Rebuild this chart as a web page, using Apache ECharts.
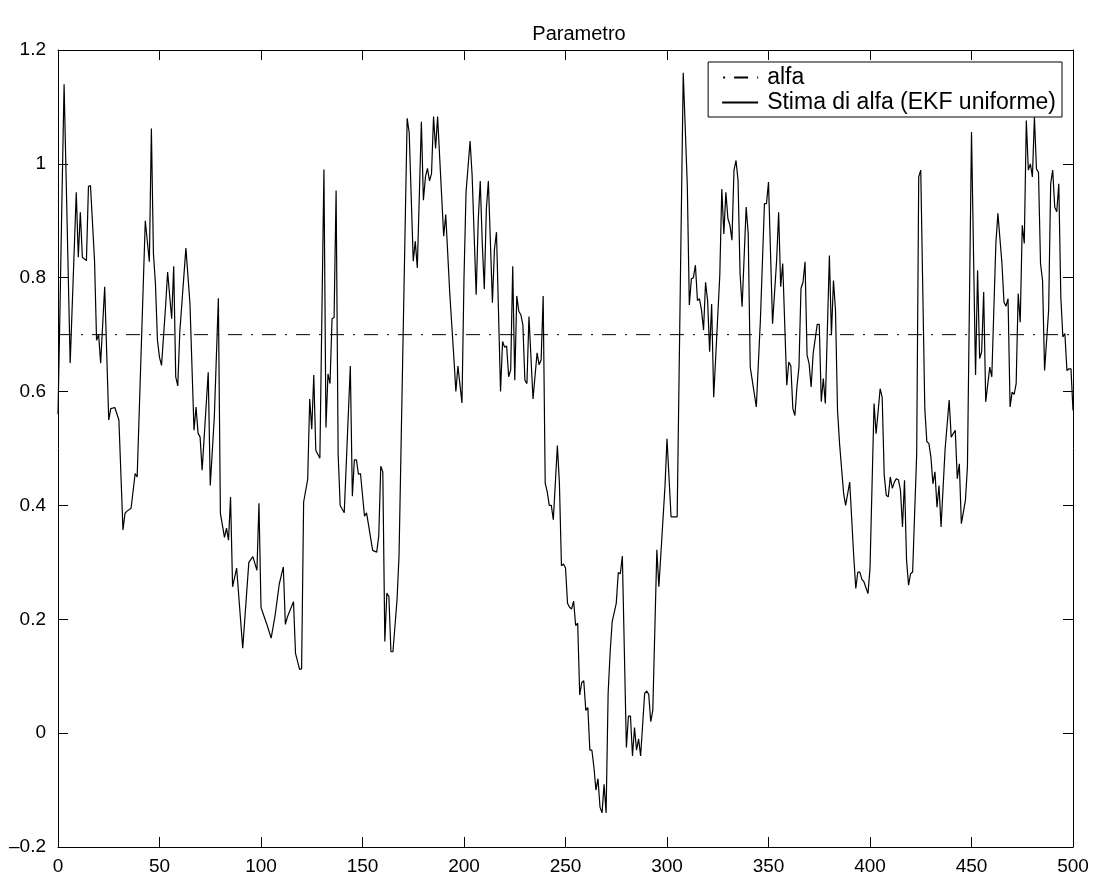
<!DOCTYPE html>
<html>
<head>
<meta charset="utf-8">
<title>Parametro</title>
<script src="https://cdn.jsdelivr.net/npm/echarts@6/dist/echarts.min.js"></script>
<style>
  html, body { margin: 0; padding: 0; background: #fff; }
  #chart { width: 1094px; height: 878px; }
</style>
</head>
<body>
<div id="chart"></div>
<script>
// Time steps (k) and the EKF estimate of alfa at those steps
const steps = [
  0,1,2,3,6,9,10,11,12,14,15,16,18,19,20,21,23,25,26,28,30,32,33,34,36,38,39,43,45,46,47,48,49,50,51,
  53,54,56,57,58,59,60,63,65,67,68,69,70,71,74,75,77,79,80,82,83,84,85,86,88,91,94,96,98,99,
  100,102,103,105,107,109,111,112,113,116,117,119,120,121,123,124,125,126,127,129,131,132,133,134,135,136,137,138,139,141,144,145,146,147,148,149,
  151,152,154,155,157,158,159,160,161,162,163,164,165,167,168,172,173,175,176,177,179,180,181,182,183,184,185,186,187,190,191,193,195,196,197,199,
  200,201,203,204,206,207,208,209,210,211,212,214,215,216,218,219,220,221,222,223,224,225,226,227,228,229,230,231,232,234,236,237,238,239,240,241,242,243,244,246,247,248,249,
  250,251,252,253,254,255,256,257,258,259,260,261,262,263,264,265,266,267,268,269,270,271,272,273,275,276,277,278,280,281,282,283,284,285,286,287,289,290,291,292,293,295,296,299,
  300,302,305,308,310,311,312,313,314,315,316,317,318,319,320,321,322,323,326,327,328,329,330,331,332,333,334,335,336,337,339,340,341,344,346,348,349,
  350,352,354,355,356,357,359,360,361,362,363,364,365,366,367,368,369,370,371,372,374,375,376,377,378,380,381,382,383,384,385,387,388,390,392,393,394,395,396,397,399,
  400,402,403,405,406,407,408,409,410,411,412,413,414,415,416,417,418,419,420,421,423,424,425,427,428,429,430,431,432,433,434,435,437,439,440,442,443,444,445,447,448,
  450,452,453,454,455,456,457,459,460,462,463,465,466,467,468,469,470,471,472,473,474,475,476,477,478,479,480,481,482,483,484,485,486,488,489,490,491,492,493,494,495,496,497,498,499,500
];
const estimate = [
  0.56,0.75,0.95,1.14,0.65,0.95,0.836,0.915,0.836,0.83,0.96,0.962,0.83,0.69,0.70,0.65,0.784,0.55,0.57,0.572,0.55,0.357,0.386,0.39,0.395,0.456,0.45,0.90,0.828,1.062,0.843,0.79,0.69,0.66,0.646,
  0.75,0.81,0.728,0.82,0.626,0.61,0.705,0.852,0.755,0.532,0.573,0.527,0.52,0.462,0.634,0.435,0.555,0.764,0.386,0.344,0.36,0.339,0.415,0.257,0.29,0.149,0.30,0.31,0.286,0.404,
  0.221,0.20,0.19,0.167,0.208,0.262,0.292,0.191,0.204,0.231,0.14,0.112,0.113,0.406,0.446,0.587,0.534,0.629,0.497,0.483,0.99,0.537,0.631,0.614,0.728,0.73,0.953,0.49,0.40,0.387,0.645,0.416,0.48,0.48,0.455,0.456,
  0.381,0.387,0.343,0.321,0.318,0.346,0.469,0.459,0.161,0.246,0.24,0.143,0.143,0.234,0.312,1.08,1.055,0.829,0.864,0.817,1.074,0.936,0.977,0.992,0.97,0.983,1.083,1.027,1.083,0.873,0.911,0.772,0.66,0.60,0.645,0.58,
  0.80,0.95,1.04,0.98,0.77,0.90,0.97,0.86,0.78,0.92,0.97,0.756,0.85,0.88,0.60,0.688,0.678,0.68,0.626,0.638,0.82,0.62,0.768,0.741,0.735,0.717,0.62,0.614,0.732,0.587,0.668,0.647,0.656,0.768,0.439,0.424,0.40,0.40,0.375,0.505,0.439,0.294,0.297,
  0.29,0.228,0.221,0.218,0.232,0.189,0.193,0.067,0.089,0.092,0.04,0.045,-0.03,-0.03,-0.06,-0.10,-0.08,-0.13,-0.14,-0.09,-0.14,0.07,0.143,0.196,0.228,0.282,0.28,0.311,-0.025,0.03,0.03,-0.04,0.01,-0.03,-0.01,-0.04,0.07,0.074,0.068,0.02,0.04,0.322,0.257,0.433,
  0.517,0.38,0.38,1.16,0.962,0.752,0.798,0.80,0.822,0.76,0.763,0.743,0.708,0.792,0.76,0.67,0.754,0.59,0.804,0.956,0.877,0.95,0.904,0.892,0.866,0.989,1.006,0.971,0.807,0.749,0.924,0.877,0.643,0.573,0.725,0.93,0.93,
  0.968,0.719,0.83,0.915,0.784,0.825,0.611,0.652,0.645,0.57,0.558,0.608,0.643,0.781,0.792,0.828,0.664,0.649,0.608,0.667,0.718,0.718,0.582,0.623,0.579,0.839,0.699,0.795,0.743,0.567,0.509,0.421,0.40,0.441,0.31,0.254,0.283,0.283,0.27,0.266,0.245,
  0.289,0.579,0.526,0.605,0.59,0.453,0.418,0.415,0.45,0.43,0.441,0.447,0.445,0.427,0.362,0.444,0.304,0.26,0.28,0.283,0.491,0.977,0.989,0.57,0.512,0.509,0.485,0.438,0.459,0.397,0.435,0.362,0.499,0.585,0.52,0.532,0.447,0.473,0.368,0.409,0.468,
  1.056,0.629,0.813,0.658,0.67,0.775,0.582,0.643,0.626,0.86,0.913,0.825,0.757,0.75,0.763,0.573,0.599,0.595,0.614,0.772,0.722,0.892,0.86,1.076,0.989,1.0,0.977,1.082,0.991,0.985,0.825,0.795,0.637,0.743,0.965,0.989,0.924,0.916,0.965,0.766,0.696,0.702,0.637,0.64,0.64,0.567
];
// True parameter value
const alfaTrue = 0.7;
const xRange = [0, 500];
const xTicks = [0, 50, 100, 150, 200, 250, 300, 350, 400, 450, 500];
const yTicks = [-0.2, 0, 0.2, 0.4, 0.6, 0.8, 1, 1.2];
const seriesNames = ['alfa', 'Stima di alfa (EKF uniforme)'];
const chartTitle = 'Parametro';

const FONT = 'Liberation Sans, Arial, Helvetica, sans-serif';
const DASH_DOT = [14, 9, 2, 9];

function fmtY(v) {
  const r = Math.round(v * 10) / 10;
  if (Math.abs(r) < 1e-9) return '0';
  const s = String(Math.abs(r));
  return (r < 0 ? '\u2013' : '') + s;
}

const estimateData = steps.map((k, i) => [k, estimate[i]]);
const alfaData = xRange.map(k => [k, alfaTrue]);

const tickStep = xTicks[1] - xTicks[0];
const yStep = Math.round((yTicks[1] - yTicks[0]) * 10) / 10;

const axisCommon = {
  axisLine: { show: true, onZero: false, lineStyle: { color: '#000', width: 1 } },
  axisTick: { show: true, inside: true, length: 10, lineStyle: { color: '#000', width: 1 } },
  splitLine: { show: false }
};

const chart = echarts.init(document.getElementById('chart'), null, { renderer: 'canvas' });
chart.setOption({
  animation: false,
  backgroundColor: '#fff',
  title: {
    text: chartTitle,
    left: 574,
    top: 19,
    textAlign: 'center',
    textStyle: { fontFamily: FONT, fontSize: 20, fontWeight: 'normal', color: '#000' }
  },
  legend: {
    data: seriesNames,
    orient: 'vertical',
    right: 32,
    top: 62,
    backgroundColor: '#fff',
    borderColor: '#000',
    borderWidth: 1,
    borderRadius: 0,
    padding: [4, 6, 3, 13],
    itemGap: 2,
    itemWidth: 36,
    itemHeight: 14,
    itemStyle: { opacity: 0 },
    lineStyle: { dashOffset: 22 },
    textStyle: { fontFamily: FONT, fontSize: 23, color: '#000', padding: [0, 0, 0, 4] }
  },
  grid: { left: 58, right: 21, top: 50, bottom: 31, containLabel: false },
  xAxis: [
    Object.assign({
      type: 'value', position: 'bottom', min: xRange[0], max: xRange[1], interval: tickStep,
      axisLabel: { color: '#000', fontFamily: FONT, fontSize: 19, margin: 10 }
    }, axisCommon),
    Object.assign({
      type: 'value', position: 'top', min: xRange[0], max: xRange[1], interval: tickStep,
      axisLabel: { show: false }
    }, axisCommon)
  ],
  yAxis: [
    Object.assign({
      type: 'value', position: 'left', min: yTicks[0], max: yTicks[yTicks.length - 1], interval: yStep,
      axisLabel: { color: '#000', fontFamily: FONT, fontSize: 19, margin: 12, formatter: fmtY }
    }, axisCommon),
    Object.assign({
      type: 'value', position: 'right', min: yTicks[0], max: yTicks[yTicks.length - 1], interval: yStep,
      axisLabel: { show: false }
    }, axisCommon)
  ],
  series: [
    {
      name: seriesNames[0],
      type: 'line',
      data: alfaData,
      showSymbol: false,
      symbol: 'none',
      lineStyle: { color: '#000', width: 1, type: DASH_DOT },
      itemStyle: { color: '#000', opacity: 0 },
      z: 2
    },
    {
      name: seriesNames[1],
      type: 'line',
      data: estimateData,
      showSymbol: false,
      symbol: 'none',
      lineStyle: { color: '#000', width: 1.2 },
      itemStyle: { color: '#000', opacity: 0 },
      z: 3
    }
  ]
});
</script>
</body>
</html>
